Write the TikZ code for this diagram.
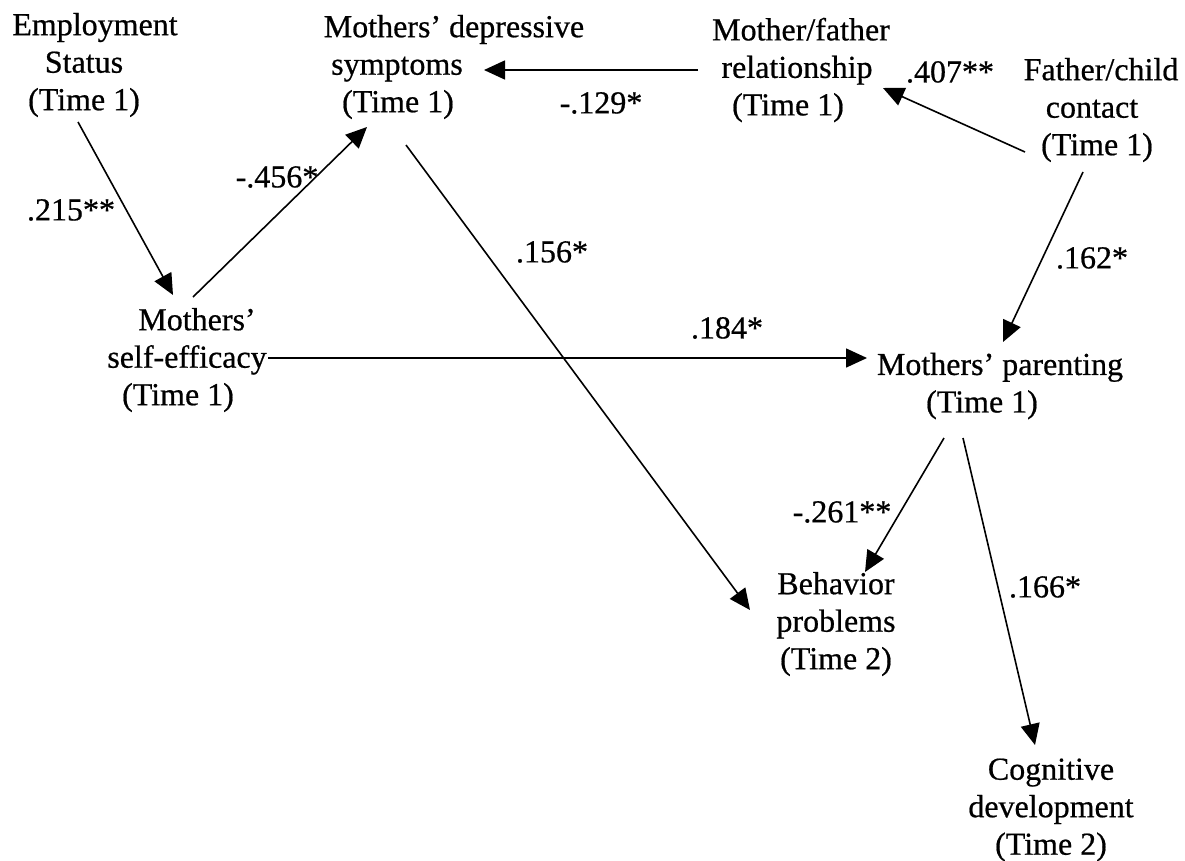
\documentclass[tikz,border=0pt]{standalone}
\usepackage{fontspec}
\setmainfont{Liberation Serif}[FakeBold=0.6]
\usetikzlibrary{arrows.meta}
\begin{document}
\begin{tikzpicture}[x=1pt,y=-1pt,
  var/.style={align=center, inner sep=0pt, font=\fontsize{32}{37.5}\selectfont},
  lab/.style={inner sep=0pt, font=\fontsize{32}{37.5}\selectfont},
  conn/.style={line width=1.6pt, -{Triangle[length=21pt,width=19pt]}}]
\useasboundingbox (0,0) rectangle (1185,860);
% variables
\node[var] (emp) at (88,65) {\hspace*{14pt}Employment\\\hspace*{-8pt}Status\\\hspace*{-8pt}(Time 1)};
\node[var] (dep) at (430,67) {\hspace*{48pt}Mothers’ depressive\\\hspace*{-66pt}symptoms\\\hspace*{-64pt}(Time 1)};
\node[var] (rel) at (797,70) {\hspace*{8pt}Mother/father\\relationship\\\hspace*{-18pt}(Time 1)};
\node[var] (fc) at (1097,110) {\hspace*{8pt}Father/child\\\hspace*{-10pt}contact\\(Time 1)};
\node[var] (eff) at (187,360) {\hspace*{20pt}Mothers’\\self-efficacy\\\hspace*{-18pt}(Time 1)};
\node[var] (par) at (1000,386) {Mothers’ parenting\\\hspace*{-36pt}(Time 1)};
\node[var] (beh) at (836,624) {Behavior\\problems\\(Time 2)};
\node[var] (cog) at (1051,810) {Cognitive\\development\\(Time 2)};
% connectors
\draw[conn] ([shift={(-10,57)}]emp.center) -- ([shift={(-14,-65)}]eff.center);
\draw[conn] ([shift={(6,-63)}]eff.center) -- ([shift={(-63,60)}]dep.center);
\draw[conn] ([shift={(-99,0)}]rel.center) -- ([shift={(54,3)}]dep.center);
\draw[conn] ([shift={(-72,42)}]fc.center) -- ([shift={(86,18)}]rel.center);
\draw[conn] ([shift={(-14,62)}]fc.center) -- ([shift={(3,-44)}]par.center);
\draw[conn] ([shift={(81,-2)}]eff.center) -- ([shift={(-133,-28)}]par.center);
\draw[conn] ([shift={(-24,78)}]dep.center) -- ([shift={(-86,-14)}]beh.center);
\draw[conn] ([shift={(-56,52)}]par.center) -- ([shift={(29,-52)}]beh.center);
\draw[conn] ([shift={(-37,52)}]par.center) -- ([shift={(-16,-65)}]cog.center);
% labels
\node[lab] (l215) at (71,210) {.215**};
\node[lab] (l456) at (277,177) {-.456*};
\node[lab] (l129) at (601,103) {-.129*};
\node[lab] (l407) at (950,72) {.407**};
\node[lab] (l156) at (552,252) {.156*};
\node[lab] (l184) at (727,328) {.184*};
\node[lab] (l162) at (1092,258) {.162*};
\node[lab] (l261) at (842,512) {-.261**};
\node[lab] (l166) at (1045,587) {.166*};
\end{tikzpicture}
\end{document}
